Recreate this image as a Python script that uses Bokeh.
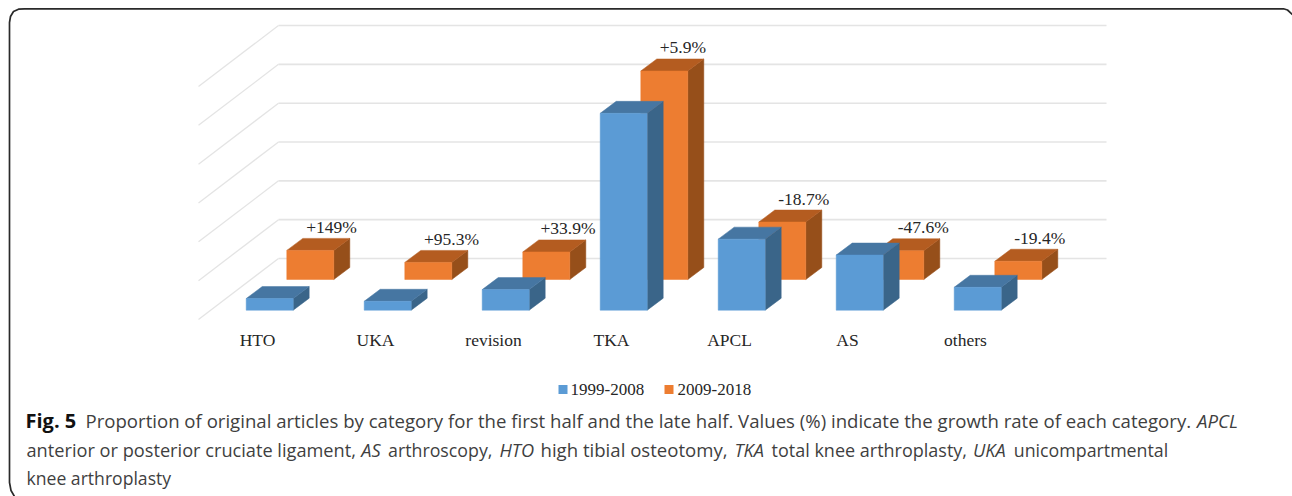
from bokeh.plotting import figure
from bokeh.models import Range1d
from bokeh.core.properties import value
from bokeh.embed import file_html
from bokeh.resources import INLINE

# ---- data -------------------------------------------------------------
categories = ["HTO", "UKA", "revision", "TKA", "APCL", "AS", "others"]
series_names = ["1999-2008", "2009-2018"]
first_half = [3.0, 2.3, 5.3, 50.7, 18.3, 14.2, 5.9]
late_half = [7.5, 4.4, 7.1, 53.7, 14.8, 7.4, 4.7]
growth_labels = ["+149%", "+95.3%", "+33.9%", "+5.9%", "-18.7%", "-47.6%", "-19.4%"]
grid_values = [0, 10, 20, 30, 40, 50, 60]

# ---- layout -----------------------------------------------------------
W, H = 1292, 496
PX_PER_CAT = 118.0
PX_PER_PCT = 3.883
X_AT_LEFT = -245.7 / PX_PER_CAT
Y_AT_TOP = 309.7 / PX_PER_PCT


def px(page_x):
    return X_AT_LEFT + page_x / PX_PER_CAT


def py(page_y):
    return Y_AT_TOP - page_y / PX_PER_PCT


BAR_W = 47.0 / PX_PER_CAT
DEPTH_X = 16 / PX_PER_CAT
DEPTH_Y = 12 / PX_PER_PCT
SERIES_X = 40.6 / PX_PER_CAT
SERIES_Y = 30.7 / PX_PER_PCT
WALL_Y = 51.7 / PX_PER_PCT

p = figure(width=W, height=H, output_backend="svg", toolbar_location=None,
           x_range=Range1d(X_AT_LEFT, X_AT_LEFT + W / PX_PER_CAT),
           y_range=Range1d(Y_AT_TOP - H / PX_PER_PCT, Y_AT_TOP),
           min_border=0, outline_line_color=None, background_fill_color="white")
p.axis.visible = False
p.grid.visible = False

# rounded card border
BORDER = "#2A2A2A"
outline = [(14, 496), (10.5, 490), (9, 482), (9, 22), (10, 16), (13, 11), (18, 8.7), (24, 8.3),
           (1283, 8.3), (1287, 9.5), (1292, 14)]
p.line([px(a) for a, _ in outline], [py(b) for _, b in outline], line_color=BORDER, line_width=1.7)

# walls
GRID = "#E4E4E4"
for g in grid_values:
    y = g + WALL_Y
    x_back = px(278)
    x_end = px(1106)
    p.line([x_back, x_end], [y, y], line_color=GRID, line_width=1.6)
    p.line([x_back, px(198)], [y, y - 61 / PX_PER_PCT], line_color=GRID, line_width=1.3)


def bars(vals, dx, dy, front, top, side):
    xl = [i + dx for i in range(len(vals))]
    fx, fy, tx, ty, sx, sy = [], [], [], [], [], []
    for x, v in zip(xl, vals):
        b, t, r = dy, dy + v, x + BAR_W
        fx.append([x, r, r, x]); fy.append([b, b, t, t])
        tx.append([x, r, r + DEPTH_X, x + DEPTH_X]); ty.append([t, t, t + DEPTH_Y, t + DEPTH_Y])
        sx.append([r, r + DEPTH_X, r + DEPTH_X, r]); sy.append([b, b + DEPTH_Y, t + DEPTH_Y, t])
    p.patches(sx, sy, fill_color=side, line_color=side, line_width=0.5)
    p.patches(tx, ty, fill_color=top, line_color=top, line_width=0.5)
    p.patches(fx, fy, fill_color=front, line_color=front, line_width=0.5)


BLUE, ORANGE = "#5B9BD5", "#ED7D31"
bars(late_half, SERIES_X, SERIES_Y, ORANGE, "#B45C20", "#964F1A")
bars(first_half, 0, 0, BLUE, "#4676A2", "#3A6589")

SERIF = value("Liberation Serif")
TXT = "#262626"
# category labels
p.text([i + 11.3 / PX_PER_CAT for i in range(len(categories))], [py(339)] * len(categories),
       text=categories, text_font=SERIF, text_font_size="17.5px", text_color=TXT,
       text_align="center", text_baseline="middle")
# growth labels above the orange bars
nudge = [0, 2, 0.5, -2.7, 0.3, 1.7, 0.3]
p.text([i + SERIES_X + (23.7 + 21 + n) / PX_PER_CAT for i, n in enumerate(nudge)],
       [v + SERIES_Y + DEPTH_Y + 11.5 / PX_PER_PCT for v in late_half],
       text=growth_labels, text_font=SERIF, text_font_size="17.5px", text_color=TXT,
       text_align="center", text_baseline="middle")

# legend
for sw, tx, col, name in [(558, 570, BLUE, series_names[0]), (664, 677, ORANGE, series_names[1])]:
    p.quad(left=[px(sw)], right=[px(sw + 9)], top=[py(384.5)], bottom=[py(393.5)], fill_color=col, line_color=None)
    p.text([px(tx)], [py(388.5)], text=[name], text_font=SERIF, text_font_size="17px", text_color=TXT,
           text_align="left", text_baseline="middle")

# caption: text, x, y, style, size
CAP = value("Open Sans")
CAP_COL = "#3F3F3F"
caption = [
    ("Fig. 5", 25, 419.5, "bold", 20),
    ("Proportion of original articles by category for the first half and the late half. Values (%) indicate the growth rate of each category.", 85, 419.5, "normal", 18.6),
    ("APCL", 1196.5, 419.5, "italic", 18.6),
    ("anterior or posterior cruciate ligament,", 26, 449, "normal", 18.2),
    ("AS", 360.7, 449, "italic", 18.2),
    ("arthroscopy,", 387.5, 449, "normal", 17.8),
    ("HTO", 499, 449, "italic", 18.2),
    ("high tibial osteotomy,", 540, 449, "normal", 18.6),
    ("TKA", 734, 449, "italic", 18.2),
    ("total knee arthroplasty,", 771, 449, "normal", 18),
    ("UKA", 972.5, 449, "italic", 18.2),
    ("unicompartmental", 1013.3, 449, "normal", 17.8),
    ("knee arthroplasty", 26, 477, "normal", 17.6),
]
for s, x, y, st, sz in caption:
    p.text([px(x)], [py(y)], text=[s], text_font=CAP, text_font_size=f"{sz}px", text_font_style=st,
           text_color="#111111" if st == "bold" else CAP_COL, text_align="left", text_baseline="middle")

open("out.html", "w").write(file_html(p, INLINE))
